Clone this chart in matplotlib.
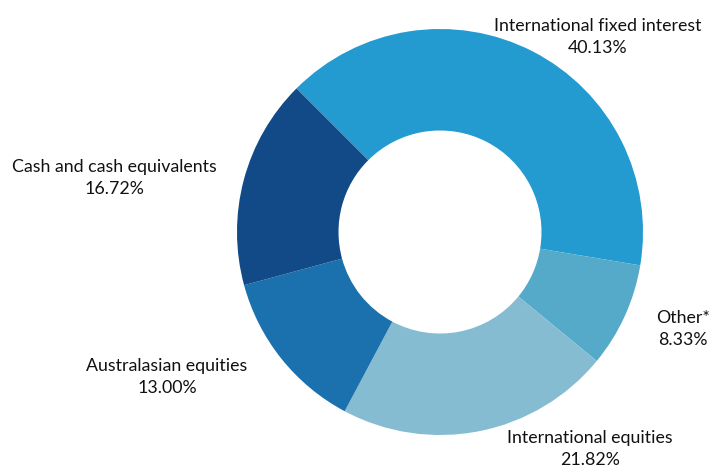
import matplotlib
matplotlib.use("Agg")
import matplotlib.pyplot as plt

# Asset allocation data (clockwise from upper left)
categories = ["International fixed interest", "Other*", "International equities",
              "Australasian equities", "Cash and cash equivalents"]
shares = [40.13, 8.33, 21.82, 13.00, 16.72]
colours = ["#239BD0", "#55A9C9", "#86BCD1", "#1B71AD", "#114A86"]

# label anchor points in pixels (x, y from top)
label_pos = [(598, 37), (683, 329), (590, 449), (167, 377), (114, 178)]

plt.rcParams['font.family'] = ['Lato', 'DejaVu Sans']

W, H = 712, 470
fig = plt.figure(figsize=(W / 100, H / 100), dpi=100)
ax = fig.add_axes([0, 0, 1, 1])

# donut centred at (440, 232) px, outer radius 203 px
ax.pie(shares, colors=colours, startangle=135, counterclock=False,
       center=(440, H - 232), radius=203,
       wedgeprops=dict(width=101.5, edgecolor='none'))

for name, val, (x, y) in zip(categories, shares, label_pos):
    ax.text(x, H - y, f"{name}\n{val:.2f}%", ha='center', va='center',
            fontsize=12.8, color='#111111', linespacing=1.5)

ax.set_xlim(0, W)
ax.set_ylim(0, H)
ax.set_aspect('equal')
ax.axis('off')

plt.savefig('out.png', dpi=100)
plt.close('all')
